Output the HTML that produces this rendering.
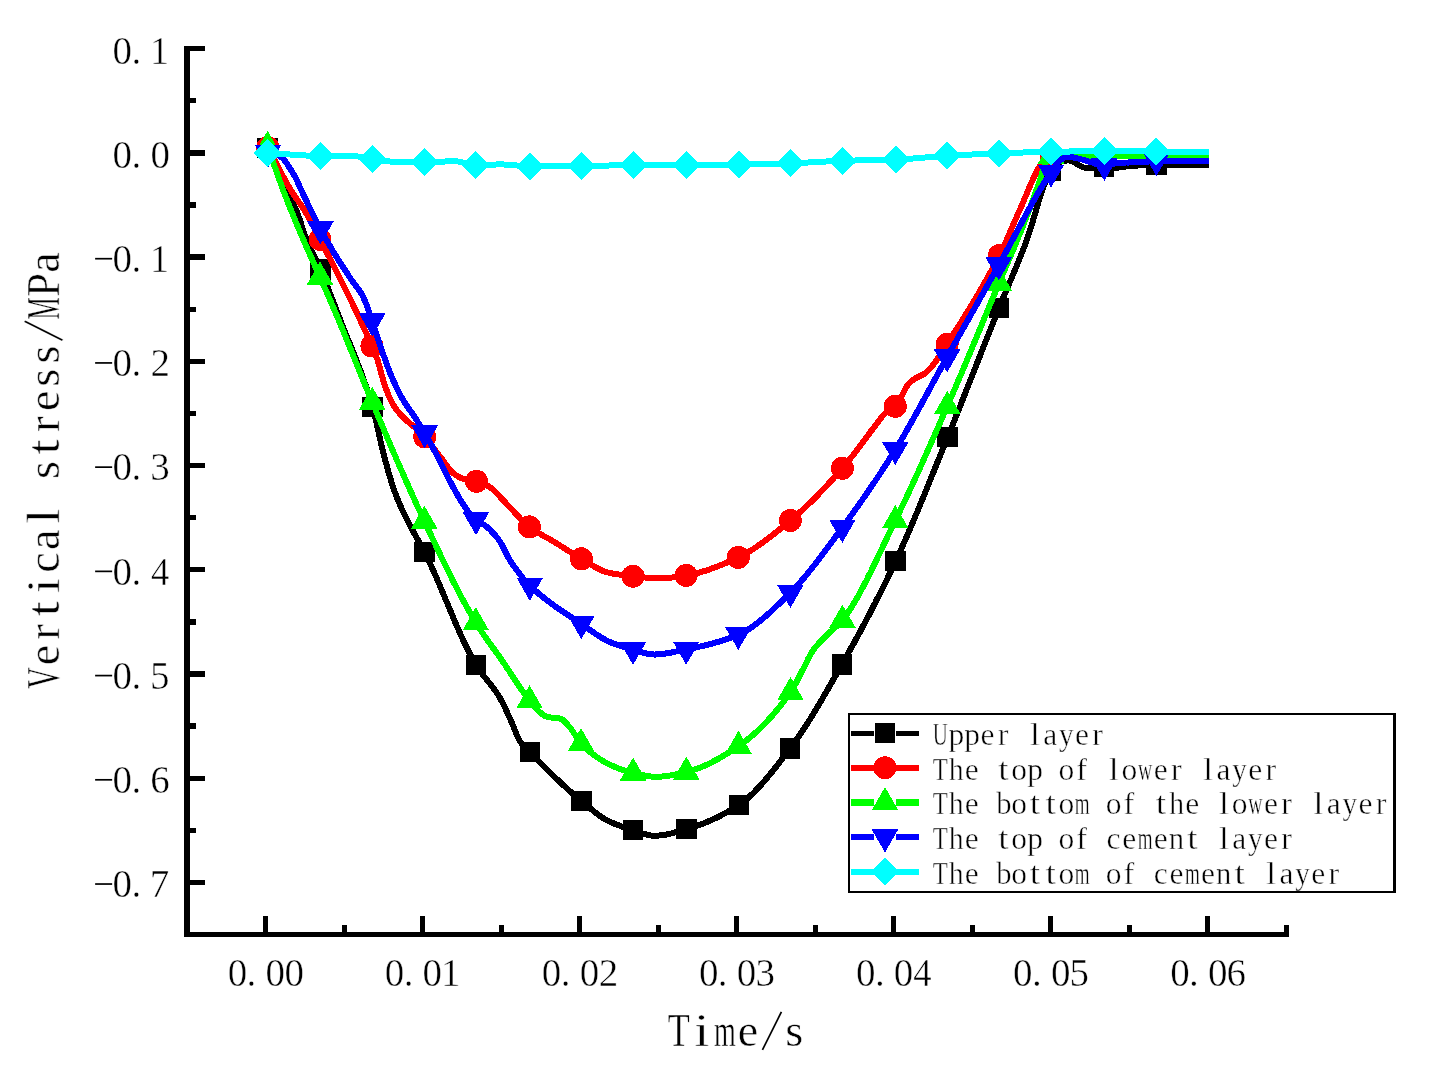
<!DOCTYPE html>
<html lang="en">
<head>
<meta charset="utf-8">
<title>Vertical stress vs time</title>
<style>
html,body{margin:0;padding:0;background:#fff;}
body{width:1434px;height:1087px;overflow:hidden;font-family:"Liberation Serif",serif;}
svg{display:block;}
</style>
</head>
<body>
<svg width="1434" height="1087" viewBox="0 0 1434 1087">
<rect width="1434" height="1087" fill="#fff"/>
<g stroke="#000" fill="none" shape-rendering="crispEdges">
<line x1="187.0" y1="46.0" x2="187.0" y2="937.2" stroke-width="5.6"/>
<line x1="184.2" y1="934.4" x2="1289.2" y2="934.4" stroke-width="5.6"/>
<line x1="187.0" y1="48.68" x2="205.0" y2="48.68" stroke-width="5.3"/>
<line x1="187.0" y1="100.79" x2="196.0" y2="100.79" stroke-width="5.3"/>
<line x1="187.0" y1="152.90" x2="205.0" y2="152.90" stroke-width="5.3"/>
<line x1="187.0" y1="205.01" x2="196.0" y2="205.01" stroke-width="5.3"/>
<line x1="187.0" y1="257.12" x2="205.0" y2="257.12" stroke-width="5.3"/>
<line x1="187.0" y1="309.23" x2="196.0" y2="309.23" stroke-width="5.3"/>
<line x1="187.0" y1="361.34" x2="205.0" y2="361.34" stroke-width="5.3"/>
<line x1="187.0" y1="413.45" x2="196.0" y2="413.45" stroke-width="5.3"/>
<line x1="187.0" y1="465.56" x2="205.0" y2="465.56" stroke-width="5.3"/>
<line x1="187.0" y1="517.67" x2="196.0" y2="517.67" stroke-width="5.3"/>
<line x1="187.0" y1="569.78" x2="205.0" y2="569.78" stroke-width="5.3"/>
<line x1="187.0" y1="621.89" x2="196.0" y2="621.89" stroke-width="5.3"/>
<line x1="187.0" y1="674.00" x2="205.0" y2="674.00" stroke-width="5.3"/>
<line x1="187.0" y1="726.11" x2="196.0" y2="726.11" stroke-width="5.3"/>
<line x1="187.0" y1="778.22" x2="205.0" y2="778.22" stroke-width="5.3"/>
<line x1="187.0" y1="830.33" x2="196.0" y2="830.33" stroke-width="5.3"/>
<line x1="187.0" y1="882.44" x2="205.0" y2="882.44" stroke-width="5.3"/>
<line x1="265.50" y1="934.4" x2="265.50" y2="916.0" stroke-width="5.0"/>
<line x1="344.04" y1="934.4" x2="344.04" y2="925.0" stroke-width="5.0"/>
<line x1="422.58" y1="934.4" x2="422.58" y2="916.0" stroke-width="5.0"/>
<line x1="501.12" y1="934.4" x2="501.12" y2="925.0" stroke-width="5.0"/>
<line x1="579.66" y1="934.4" x2="579.66" y2="916.0" stroke-width="5.0"/>
<line x1="658.20" y1="934.4" x2="658.20" y2="925.0" stroke-width="5.0"/>
<line x1="736.74" y1="934.4" x2="736.74" y2="916.0" stroke-width="5.0"/>
<line x1="815.28" y1="934.4" x2="815.28" y2="925.0" stroke-width="5.0"/>
<line x1="893.82" y1="934.4" x2="893.82" y2="916.0" stroke-width="5.0"/>
<line x1="972.36" y1="934.4" x2="972.36" y2="925.0" stroke-width="5.0"/>
<line x1="1050.90" y1="934.4" x2="1050.90" y2="916.0" stroke-width="5.0"/>
<line x1="1129.44" y1="934.4" x2="1129.44" y2="925.0" stroke-width="5.0"/>
<line x1="1207.98" y1="934.4" x2="1207.98" y2="916.0" stroke-width="5.0"/>
<line x1="1286.52" y1="934.4" x2="1286.52" y2="925.0" stroke-width="5.0"/>
</g>
<g shape-rendering="crispEdges">
<polyline points="267.5,148.0 269.7,153.4 271.8,158.9 274.0,164.4 276.1,170.0 278.3,175.4 280.5,180.6 282.6,185.5 284.8,190.0 287.0,193.9 289.1,197.4 291.3,200.7 293.4,204.3 295.6,208.5 298.1,214.8 300.6,222.2 303.0,229.9 305.5,236.8 307.6,241.9 309.7,246.7 311.8,251.2 314.0,255.6 316.1,260.0 318.2,264.6 320.3,269.4 322.3,274.1 324.3,279.0 326.3,283.9 328.3,289.0 330.3,294.1 332.3,299.2 334.3,304.4 336.3,309.6 338.3,314.8 340.3,320.0 342.3,325.2 344.3,330.3 346.3,335.3 348.4,340.2 350.4,345.2 352.4,350.1 354.4,355.2 356.4,360.2 358.4,365.4 360.4,370.7 362.4,376.2 364.4,381.9 366.5,387.7 368.5,393.9 370.5,400.3 372.5,407.0 374.8,415.7 377.1,425.7 379.4,436.2 381.7,446.4 384.0,455.7 386.3,464.0 388.5,472.1 390.8,479.8 393.0,486.9 395.3,493.3 397.4,498.8 399.6,503.9 401.7,508.6 403.9,513.1 406.0,517.5 408.2,521.8 410.3,526.0 412.3,529.9 414.4,533.6 416.4,537.3 418.4,540.8 420.4,544.4 422.5,548.1 424.5,552.0 426.6,556.1 428.6,560.4 430.7,564.8 432.7,569.3 434.8,574.0 436.9,578.7 438.9,583.5 441.0,588.3 443.0,593.2 445.1,598.1 447.2,603.1 449.2,608.0 451.3,612.9 453.3,617.8 455.4,622.6 457.5,627.4 459.5,632.1 461.6,636.7 463.6,641.2 465.7,645.5 467.8,649.7 469.8,653.8 471.9,657.7 473.9,661.4 476.0,664.9 478.0,668.1 480.0,671.0 482.0,673.7 484.0,676.3 486.0,678.8 488.0,681.3 490.0,683.8 492.0,686.3 494.0,688.9 496.0,691.7 498.0,694.7 500.0,698.0 502.2,702.1 504.5,706.6 506.7,711.4 509.0,716.4 511.2,721.3 513.4,726.5 515.6,732.1 517.9,737.3 520.1,741.4 522.5,744.7 525.0,747.4 527.5,749.8 529.9,752.2 532.0,754.3 534.0,756.4 536.1,758.6 538.1,760.6 540.2,762.7 542.2,764.8 544.3,766.9 546.3,768.9 548.4,770.9 550.5,772.9 552.5,774.9 554.6,776.9 556.6,778.9 558.7,780.8 560.7,782.8 562.8,784.7 564.9,786.6 566.9,788.4 569.0,790.3 571.0,792.1 573.1,793.9 575.1,795.7 577.2,797.5 579.2,799.2 581.3,800.9 583.4,802.6 585.4,804.3 587.5,806.1 589.5,807.8 591.6,809.5 593.6,811.1 595.7,812.8 597.7,814.3 599.8,815.8 601.8,817.2 603.9,818.5 605.9,819.7 608.0,820.8 610.1,821.8 612.2,822.7 614.3,823.6 616.4,824.5 618.5,825.3 620.5,826.0 622.6,826.8 624.7,827.5 626.8,828.1 628.9,828.8 631.0,829.5 633.1,830.1 635.2,830.8 637.4,831.5 639.5,832.3 641.6,833.1 643.8,833.8 645.9,834.4 648.0,835.0 650.1,835.4 652.3,835.7 654.4,835.8 656.4,835.8 658.4,835.6 660.4,835.4 662.4,835.2 664.4,834.8 666.4,834.5 668.4,834.0 670.5,833.6 672.5,833.1 674.5,832.5 676.5,832.0 678.5,831.4 680.5,830.8 682.5,830.2 684.5,829.7 686.5,829.1 688.5,828.5 690.5,827.9 692.5,827.3 694.5,826.6 696.6,826.0 698.6,825.2 700.6,824.5 702.6,823.7 704.6,822.9 706.6,822.1 708.6,821.3 710.6,820.4 712.6,819.5 714.7,818.5 716.7,817.6 718.7,816.6 720.7,815.6 722.7,814.5 724.7,813.4 726.7,812.3 728.7,811.2 730.8,810.0 732.8,808.8 734.8,807.6 736.8,806.3 738.8,805.0 740.8,803.6 742.9,802.1 744.9,800.5 747.0,798.8 749.0,797.0 751.1,795.1 753.1,793.2 755.2,791.1 757.2,789.0 759.3,786.8 761.3,784.5 763.4,782.2 765.4,779.8 767.5,777.4 769.5,774.9 771.6,772.4 773.6,769.8 775.7,767.3 777.7,764.6 779.8,762.0 781.8,759.3 783.9,756.7 785.9,754.0 788.0,751.3 790.0,748.6 792.0,745.9 794.0,743.2 796.0,740.4 798.0,737.5 800.0,734.6 802.0,731.6 804.0,728.6 806.0,725.5 808.0,722.4 810.0,719.2 812.0,715.9 814.0,712.7 816.0,709.4 818.0,706.0 820.0,702.6 822.0,699.2 824.0,695.8 826.0,692.3 828.0,688.9 830.0,685.4 832.0,681.9 834.0,678.4 836.0,674.9 838.0,671.3 840.0,667.8 842.0,664.3 844.1,660.7 846.1,657.0 848.2,653.3 850.2,649.6 852.3,645.9 854.4,642.2 856.4,638.4 858.5,634.6 860.6,630.8 862.6,626.9 864.7,623.1 866.7,619.2 868.8,615.2 870.9,611.3 872.9,607.3 875.0,603.3 877.0,599.2 879.1,595.1 881.2,591.0 883.2,586.9 885.3,582.7 887.4,578.5 889.4,574.2 891.5,569.9 893.5,565.6 895.6,561.2 897.6,556.9 899.6,552.5 901.6,548.1 903.6,543.6 905.6,539.1 907.6,534.5 909.6,529.9 911.6,525.2 913.6,520.5 915.6,515.7 917.6,510.9 919.6,506.1 921.6,501.3 923.6,496.4 925.6,491.5 927.6,486.6 929.6,481.6 931.6,476.7 933.6,471.8 935.6,466.8 937.6,461.8 939.6,456.9 941.6,452.0 943.6,447.0 945.6,442.1 947.6,437.2 949.7,432.1 951.7,427.1 953.8,422.0 955.8,416.8 957.9,411.7 960.0,406.5 962.0,401.3 964.1,396.1 966.1,390.9 968.2,385.7 970.3,380.5 972.3,375.3 974.4,370.0 976.4,364.8 978.5,359.6 980.6,354.3 982.6,349.1 984.7,343.9 986.7,338.7 988.8,333.5 990.9,328.3 992.9,323.2 995.0,318.0 997.0,312.9 999.1,307.8 1001.1,302.8 1003.2,297.8 1005.2,292.9 1007.3,288.1 1009.3,283.2 1011.4,278.4 1013.4,273.5 1015.5,268.6 1017.5,263.7 1019.6,258.6 1021.6,253.5 1023.7,248.3 1025.7,243.0 1027.8,237.1 1029.9,230.7 1032.0,223.9 1034.1,216.9 1036.2,209.8 1038.3,202.7 1040.5,195.9 1042.6,189.5 1044.7,183.6 1046.8,178.3 1048.9,173.9 1051.0,170.5 1053.0,167.9 1055.0,165.5 1057.0,163.7 1059.0,162.5 1061.3,161.7 1063.5,161.0 1065.8,160.6 1068.1,160.4 1070.2,160.7 1072.3,161.4 1074.4,162.4 1076.5,163.6 1078.6,164.9 1080.7,166.1 1082.8,167.1 1084.9,167.8 1087.0,168.1 1089.1,168.1 1091.2,167.9 1093.4,167.8 1095.5,167.6 1097.6,167.3 1099.8,167.2 1101.9,167.0 1104.0,167.0 1106.3,167.0 1108.5,167.2 1110.8,167.3 1113.1,167.4 1115.3,167.6 1117.6,167.6 1119.6,167.5 1121.6,167.3 1123.6,167.0 1125.6,166.6 1127.6,166.3 1129.6,166.0 1131.6,165.8 1133.7,165.7 1135.7,165.6 1137.8,165.5 1139.8,165.4 1141.9,165.3 1143.9,165.2 1146.0,165.1 1148.1,165.1 1150.1,165.0 1152.2,165.0 1154.2,164.9 1156.3,164.9 1158.3,164.9 1160.4,164.9 1162.4,164.9 1164.4,164.8 1166.4,164.8 1168.5,164.8 1170.5,164.8 1172.5,164.8 1174.5,164.8 1176.6,164.8 1178.6,164.8 1180.6,164.8 1182.7,164.8 1184.7,164.8 1186.7,164.8 1188.7,164.8 1190.8,164.8 1192.8,164.7 1194.8,164.7 1196.8,164.7 1198.9,164.7 1200.9,164.7 1202.9,164.7 1204.9,164.7 1207.0,164.7 1209.0,164.7" fill="none" stroke="#000000" stroke-width="6.0" stroke-linejoin="round" stroke-linecap="butt"/>
<rect x="257.3" y="137.8" width="20.4" height="20.4" fill="#000000"/>
<rect x="310.1" y="259.2" width="20.4" height="20.4" fill="#000000"/>
<rect x="362.3" y="396.8" width="20.4" height="20.4" fill="#000000"/>
<rect x="414.3" y="541.8" width="20.4" height="20.4" fill="#000000"/>
<rect x="465.8" y="654.7" width="20.4" height="20.4" fill="#000000"/>
<rect x="519.7" y="742.0" width="20.4" height="20.4" fill="#000000"/>
<rect x="571.1" y="790.7" width="20.4" height="20.4" fill="#000000"/>
<rect x="622.9" y="819.9" width="20.4" height="20.4" fill="#000000"/>
<rect x="676.3" y="818.9" width="20.4" height="20.4" fill="#000000"/>
<rect x="728.6" y="794.8" width="20.4" height="20.4" fill="#000000"/>
<rect x="779.8" y="738.4" width="20.4" height="20.4" fill="#000000"/>
<rect x="831.8" y="654.1" width="20.4" height="20.4" fill="#000000"/>
<rect x="885.4" y="551.0" width="20.4" height="20.4" fill="#000000"/>
<rect x="937.4" y="427.0" width="20.4" height="20.4" fill="#000000"/>
<rect x="988.9" y="297.6" width="20.4" height="20.4" fill="#000000"/>
<rect x="1040.8" y="160.3" width="20.4" height="20.4" fill="#000000"/>
<rect x="1093.8" y="156.8" width="20.4" height="20.4" fill="#000000"/>
<rect x="1146.1" y="154.7" width="20.4" height="20.4" fill="#000000"/>
<polyline points="267.8,147.5 269.9,151.4 272.0,155.4 274.1,159.3 276.2,163.3 278.3,167.3 280.3,171.3 282.4,175.2 284.5,179.1 286.6,182.8 288.7,186.5 290.8,190.0 292.8,193.2 294.9,196.3 296.9,199.3 299.0,202.2 301.0,205.1 303.1,208.2 305.1,211.5 307.2,215.1 309.4,218.9 311.5,222.9 313.6,226.9 315.7,231.0 317.9,235.2 320.0,239.3 322.1,243.3 324.2,247.4 326.2,251.4 328.3,255.4 330.4,259.5 332.5,263.5 334.5,267.6 336.6,271.7 338.7,275.8 340.8,279.9 342.8,284.1 344.9,288.2 347.0,292.4 349.1,296.7 351.1,300.9 353.2,305.2 355.3,309.6 357.4,314.0 359.4,318.4 361.5,322.9 363.6,327.4 365.7,332.0 367.7,336.6 369.8,341.3 371.9,346.0 374.8,352.7 377.7,360.3 379.8,367.5 381.9,375.7 384.0,382.9 386.2,389.2 388.4,395.0 390.6,400.0 392.8,404.2 394.9,407.4 397.0,410.2 399.1,412.8 401.1,415.1 403.2,417.2 405.3,419.3 407.3,421.2 409.3,422.9 411.4,424.6 413.4,426.3 415.4,428.0 417.7,430.1 420.0,432.2 422.4,434.4 424.7,436.8 426.9,439.3 429.1,442.0 431.3,444.9 433.4,447.8 435.6,450.8 437.8,453.7 440.0,456.5 442.2,459.4 444.4,462.4 446.6,465.4 448.9,468.4 451.1,471.0 453.3,473.3 455.5,475.0 457.9,476.4 460.2,477.6 462.6,478.6 465.0,479.3 467.3,479.8 469.6,480.2 471.9,480.5 474.2,480.8 476.5,481.3 478.8,482.0 481.1,482.8 483.4,483.8 485.8,484.9 488.1,486.1 490.4,487.5 492.5,489.0 494.7,491.0 496.8,493.1 499.0,495.5 501.1,497.9 503.3,500.3 505.4,502.6 507.4,504.7 509.4,506.8 511.4,508.9 513.4,511.1 515.4,513.3 517.4,515.5 519.4,517.6 521.4,519.7 523.4,521.7 525.4,523.6 527.4,525.3 529.4,526.9 531.4,528.4 533.4,529.8 535.4,531.1 537.4,532.3 539.4,533.5 541.4,534.7 543.4,535.8 545.4,536.9 547.4,538.0 549.4,539.1 551.4,540.2 553.4,541.4 555.4,542.6 557.4,543.8 559.4,545.1 561.4,546.4 563.4,547.6 565.4,548.9 567.4,550.2 569.4,551.5 571.4,552.8 573.4,554.0 575.4,555.3 577.4,556.5 579.4,557.7 581.4,558.8 583.4,560.0 585.5,561.2 587.5,562.5 589.6,563.7 591.6,565.0 593.7,566.2 595.7,567.3 597.8,568.5 599.8,569.5 601.9,570.4 603.9,571.3 606.0,572.0 608.0,572.5 610.1,573.0 612.2,573.4 614.2,573.8 616.3,574.1 618.4,574.4 620.5,574.7 622.6,575.0 624.7,575.3 626.8,575.5 628.8,575.7 630.9,576.0 633.0,576.2 635.1,576.4 637.3,576.7 639.4,576.9 641.5,577.2 643.7,577.4 645.8,577.6 647.9,577.9 650.1,578.0 652.2,578.2 654.3,578.3 656.5,578.4 658.6,578.4 660.7,578.4 662.8,578.3 665.0,578.2 667.1,578.0 669.2,577.8 671.3,577.6 673.5,577.3 675.6,577.0 677.7,576.7 679.8,576.4 682.0,576.1 684.1,575.7 686.2,575.4 688.2,575.1 690.2,574.7 692.2,574.3 694.2,573.8 696.2,573.4 698.2,572.8 700.2,572.3 702.2,571.7 704.2,571.1 706.2,570.5 708.2,569.8 710.2,569.1 712.2,568.4 714.3,567.7 716.3,566.9 718.3,566.1 720.3,565.3 722.3,564.5 724.3,563.7 726.3,562.8 728.3,561.9 730.3,561.0 732.3,560.2 734.3,559.2 736.3,558.3 738.3,557.4 740.3,556.4 742.3,555.4 744.3,554.4 746.3,553.2 748.3,552.1 750.3,550.9 752.3,549.6 754.3,548.3 756.3,547.0 758.3,545.6 760.3,544.2 762.3,542.8 764.3,541.3 766.4,539.8 768.4,538.3 770.4,536.8 772.4,535.2 774.4,533.6 776.4,532.0 778.4,530.4 780.4,528.8 782.4,527.1 784.4,525.5 786.4,523.8 788.4,522.2 790.4,520.5 792.4,518.8 794.4,517.1 796.4,515.4 798.4,513.6 800.4,511.8 802.4,510.0 804.4,508.1 806.4,506.2 808.4,504.3 810.4,502.4 812.4,500.4 814.4,498.4 816.4,496.4 818.4,494.4 820.4,492.3 822.4,490.2 824.4,488.1 826.4,486.0 828.4,483.9 830.4,481.7 832.4,479.5 834.4,477.3 836.4,475.1 838.4,472.8 840.4,470.6 842.4,468.3 844.5,465.9 846.6,463.4 848.6,460.8 850.7,458.2 852.8,455.5 854.9,452.8 857.0,450.0 859.0,447.2 861.1,444.4 863.2,441.6 865.3,438.8 867.4,436.0 869.5,433.2 871.5,430.5 873.6,427.8 875.7,425.1 877.7,422.4 879.7,419.7 881.8,417.0 883.8,414.6 885.8,412.6 888.2,410.9 890.5,409.6 892.9,408.2 895.3,406.3 897.7,403.2 900.0,399.1 902.4,394.8 905.2,389.2 908.0,384.4 910.6,381.8 913.2,379.8 915.8,378.1 918.0,376.9 920.2,375.9 922.5,374.9 924.7,373.6 926.9,371.8 929.2,369.5 931.4,367.0 933.6,364.2 935.9,361.2 938.1,358.0 940.4,354.7 942.6,351.3 944.9,347.8 947.1,344.2 949.1,341.0 951.1,337.8 953.1,334.6 955.1,331.4 957.1,328.3 959.1,325.1 961.2,321.9 963.2,318.6 965.2,315.4 967.2,312.2 969.2,308.9 971.2,305.6 973.2,302.3 975.2,299.0 977.2,295.6 979.2,292.2 981.2,288.7 983.2,285.2 985.2,281.7 987.3,278.1 989.3,274.5 991.3,270.8 993.3,267.1 995.3,263.3 997.3,259.4 999.3,255.5 1001.4,251.3 1003.4,246.9 1005.5,242.4 1007.6,237.8 1009.6,233.0 1011.7,228.2 1013.8,223.4 1015.9,218.7 1017.9,213.9 1020.0,209.3 1022.2,204.4 1024.3,199.3 1026.5,194.2 1028.7,189.0 1030.8,184.0 1033.0,179.1 1035.2,174.5 1037.3,170.3 1039.5,166.5 1041.7,162.9 1043.8,159.7 1046.0,157.5 1048.5,156.2 1051.0,155.2 1053.2,154.3 1055.4,153.3 1057.6,152.4 1059.8,151.7 1062.0,151.5 1064.0,151.5 1066.0,151.7 1068.0,151.9 1070.0,152.1 1072.0,152.3 1074.0,152.6 1076.0,152.8 1078.0,153.0 1080.0,153.2 1082.0,153.3 1084.0,153.4 1086.0,153.6 1088.0,153.7 1090.0,153.8 1092.0,153.9 1094.0,154.0 1096.0,154.0 1098.0,154.1 1100.0,154.2 1102.0,154.2 1104.0,154.2 1106.0,154.2 1108.0,154.2 1110.0,154.2 1112.0,154.2 1114.0,154.2 1116.0,154.2 1118.0,154.2 1120.0,154.2 1122.0,154.2 1124.0,154.2 1126.0,154.2 1128.0,154.2 1130.0,154.2 1132.0,154.2 1134.0,154.2 1136.0,154.2 1138.0,154.2 1140.0,154.2 1142.0,154.2 1144.0,154.2 1146.0,154.2 1148.0,154.2 1150.0,154.2 1152.0,154.2 1154.0,154.2 1156.0,154.2 1158.0,154.2 1160.1,154.2 1162.1,154.2 1164.2,154.2 1166.2,154.2 1168.2,154.2 1170.3,154.1 1172.3,154.1 1174.3,154.1 1176.4,154.1 1178.4,154.1 1180.5,154.1 1182.5,154.1 1184.5,154.0 1186.6,154.0 1188.6,154.0 1190.7,154.0 1192.7,153.9 1194.7,153.9 1196.8,153.9 1198.8,153.9 1200.8,153.9 1202.9,153.9 1204.9,153.8 1207.0,153.8 1209.0,153.8" fill="none" stroke="#ff0000" stroke-width="6.0" stroke-linejoin="round" stroke-linecap="butt"/>
<circle cx="267.8" cy="147.5" r="11.5" fill="#ff0000"/>
<circle cx="320.0" cy="239.3" r="11.5" fill="#ff0000"/>
<circle cx="371.9" cy="346.0" r="11.5" fill="#ff0000"/>
<circle cx="424.7" cy="436.8" r="11.5" fill="#ff0000"/>
<circle cx="476.5" cy="481.3" r="11.5" fill="#ff0000"/>
<circle cx="529.4" cy="526.9" r="11.5" fill="#ff0000"/>
<circle cx="581.4" cy="558.8" r="11.5" fill="#ff0000"/>
<circle cx="633.0" cy="576.2" r="11.5" fill="#ff0000"/>
<circle cx="686.2" cy="575.4" r="11.5" fill="#ff0000"/>
<circle cx="738.3" cy="557.4" r="11.5" fill="#ff0000"/>
<circle cx="790.4" cy="520.5" r="11.5" fill="#ff0000"/>
<circle cx="842.4" cy="468.3" r="11.5" fill="#ff0000"/>
<circle cx="895.3" cy="406.3" r="11.5" fill="#ff0000"/>
<circle cx="947.1" cy="344.2" r="11.5" fill="#ff0000"/>
<circle cx="999.3" cy="255.5" r="11.5" fill="#ff0000"/>
<circle cx="1051.0" cy="155.2" r="11.5" fill="#ff0000"/>
<circle cx="1104.0" cy="154.2" r="11.5" fill="#ff0000"/>
<circle cx="1156.0" cy="154.2" r="11.5" fill="#ff0000"/>
<polyline points="267.6,146.2 269.8,152.5 272.0,158.9 274.2,165.3 276.5,171.6 278.7,177.9 280.9,184.0 283.1,190.0 285.3,195.7 287.4,201.2 289.6,206.7 291.8,212.1 293.9,217.4 296.1,222.6 298.3,227.8 300.4,232.9 302.6,238.0 304.8,243.0 307.0,248.0 309.1,252.8 311.3,257.6 313.5,262.4 315.6,267.2 317.8,272.0 320.0,276.9 322.1,281.6 324.1,286.3 326.2,291.1 328.3,295.8 330.3,300.6 332.4,305.4 334.5,310.3 336.5,315.1 338.6,320.0 340.7,325.0 342.8,330.1 344.9,335.2 347.0,340.3 349.1,345.5 351.2,350.6 353.3,355.8 355.4,361.0 357.5,366.2 359.6,371.4 361.7,376.6 363.8,381.7 365.9,386.9 368.0,392.0 370.1,397.0 372.2,402.0 374.2,406.7 376.2,411.5 378.2,416.2 380.2,420.9 382.2,425.7 384.2,430.4 386.2,435.1 388.2,439.8 390.2,444.5 392.2,449.2 394.2,453.8 396.2,458.5 398.2,463.1 400.3,467.7 402.3,472.3 404.3,476.9 406.3,481.4 408.3,485.9 410.3,490.4 412.3,494.9 414.3,499.3 416.3,503.7 418.3,508.1 420.3,512.4 422.3,516.7 424.3,521.0 426.4,525.4 428.4,529.7 430.5,534.1 432.5,538.5 434.6,542.8 436.7,547.2 438.7,551.5 440.8,555.8 442.8,560.1 444.9,564.3 447.0,568.6 449.0,572.8 451.1,576.9 453.1,581.1 455.2,585.1 457.3,589.2 459.3,593.1 461.4,597.1 463.4,600.9 465.5,604.7 467.6,608.4 469.6,612.1 471.7,615.7 473.7,619.2 475.8,622.6 477.9,625.9 479.9,629.1 482.0,632.2 484.0,635.3 486.1,638.2 488.2,641.1 490.2,644.0 492.3,646.9 494.4,649.7 496.4,652.6 498.5,655.4 500.5,658.3 502.6,661.3 504.7,664.3 506.7,667.4 508.8,670.5 510.9,673.7 512.9,676.8 515.0,680.0 517.1,683.1 519.2,686.2 521.2,689.2 523.3,692.2 525.4,695.1 527.4,697.9 529.5,700.6 531.5,703.3 533.6,705.9 535.7,708.3 537.7,710.3 539.7,712.0 541.7,713.7 543.7,715.2 545.7,716.3 547.7,717.0 549.8,717.4 551.9,717.6 554.0,717.8 556.1,718.0 558.2,718.2 560.3,718.6 562.3,719.5 564.3,721.1 566.3,723.2 568.3,725.6 570.3,727.9 572.4,730.7 574.6,734.1 576.7,737.6 578.9,740.9 581.0,743.5 583.1,745.6 585.2,747.6 587.3,749.5 589.4,751.4 591.5,753.1 593.6,754.8 595.8,756.3 597.9,757.8 600.0,759.2 602.1,760.5 604.2,761.7 606.3,762.9 608.4,764.0 610.5,765.0 612.6,765.9 614.6,766.8 616.7,767.7 618.7,768.5 620.8,769.2 622.8,770.0 624.9,770.6 626.9,771.3 629.0,771.9 631.0,772.4 633.1,772.9 635.2,773.4 637.2,773.9 639.3,774.4 641.3,774.8 643.4,775.3 645.4,775.7 647.5,776.1 649.5,776.4 651.6,776.6 653.6,776.7 655.7,776.8 657.7,776.8 659.8,776.7 661.8,776.5 663.9,776.3 665.9,776.1 667.9,775.8 670.0,775.5 672.0,775.1 674.1,774.7 676.1,774.3 678.1,773.8 680.2,773.4 682.2,772.9 684.3,772.5 686.3,772.0 688.3,771.5 690.3,771.0 692.3,770.4 694.3,769.7 696.3,769.0 698.3,768.3 700.4,767.5 702.4,766.7 704.4,765.8 706.4,764.9 708.4,764.0 710.4,763.0 712.4,761.9 714.4,760.9 716.4,759.8 718.4,758.7 720.4,757.5 722.4,756.3 724.4,755.1 726.5,753.9 728.5,752.6 730.5,751.4 732.5,750.1 734.5,748.8 736.5,747.4 738.5,746.1 740.5,744.7 742.5,743.3 744.5,741.8 746.5,740.3 748.5,738.7 750.5,737.1 752.5,735.4 754.5,733.6 756.5,731.8 758.5,729.9 760.5,728.0 762.5,726.0 764.5,724.0 766.5,721.9 768.5,719.7 770.5,717.5 772.5,715.3 774.5,712.9 776.5,710.6 778.5,708.1 780.5,705.6 782.5,703.1 784.5,700.5 786.5,697.8 788.5,695.1 790.5,692.3 792.7,688.9 794.8,685.1 797.0,681.0 799.1,676.7 801.3,672.6 803.6,668.1 806.0,663.3 808.3,658.6 810.7,654.2 813.0,650.5 815.1,647.7 817.2,645.2 819.2,642.9 821.3,640.8 823.4,638.6 825.5,636.5 827.6,634.4 829.7,632.4 831.8,630.5 834.0,628.6 836.1,626.7 838.2,624.6 840.3,622.4 842.4,620.0 844.4,617.4 846.5,614.7 848.5,611.8 850.5,608.7 852.6,605.5 854.6,602.1 856.6,598.7 858.7,595.1 860.7,591.3 862.7,587.5 864.8,583.6 866.8,579.7 868.8,575.6 870.9,571.5 872.9,567.3 875.0,563.1 877.0,558.8 879.0,554.6 881.1,550.3 883.1,546.0 885.1,541.7 887.2,537.4 889.2,533.1 891.2,528.9 893.3,524.7 895.3,520.5 897.3,516.4 899.3,512.3 901.3,508.2 903.3,504.0 905.3,499.8 907.3,495.5 909.3,491.2 911.3,486.9 913.3,482.6 915.3,478.2 917.3,473.9 919.3,469.5 921.3,465.0 923.3,460.6 925.3,456.1 927.3,451.6 929.3,447.1 931.3,442.6 933.3,438.1 935.3,433.6 937.3,429.0 939.3,424.5 941.3,419.9 943.3,415.3 945.3,410.8 947.3,406.2 949.4,401.5 951.4,396.7 953.5,391.9 955.6,387.1 957.6,382.2 959.7,377.4 961.8,372.5 963.8,367.6 965.9,362.7 968.0,357.7 970.0,352.8 972.1,347.8 974.2,342.8 976.3,337.9 978.3,332.9 980.4,327.9 982.5,322.9 984.5,317.9 986.6,312.9 988.7,307.9 990.7,303.0 992.8,298.0 994.9,293.0 996.9,288.1 999.0,283.1 1001.1,278.2 1003.1,273.4 1005.2,268.5 1007.2,263.7 1009.3,258.9 1011.3,254.1 1013.4,249.2 1015.4,244.3 1017.5,239.4 1019.5,234.4 1021.6,229.4 1023.6,224.2 1025.7,219.0 1027.7,213.7 1029.8,208.3 1031.8,202.8 1033.9,197.2 1035.9,191.6 1038.0,185.8 1040.0,180.0 1042.0,173.5 1044.0,166.9 1046.0,162.0 1048.5,158.0 1051.0,156.0 1053.0,156.0 1055.1,155.9 1057.1,155.9 1059.2,155.9 1061.2,155.8 1063.2,155.8 1065.3,155.8 1067.3,155.7 1069.3,155.7 1071.4,155.7 1073.4,155.7 1075.5,155.7 1077.5,155.7 1079.5,155.7 1081.6,155.6 1083.6,155.6 1085.7,155.6 1087.7,155.6 1089.7,155.6 1091.8,155.6 1093.8,155.6 1095.8,155.6 1097.9,155.6 1099.9,155.6 1102.0,155.6 1104.0,155.6 1106.0,155.6 1108.0,155.6 1110.0,155.6 1112.0,155.6 1114.0,155.6 1116.0,155.6 1118.0,155.6 1120.0,155.6 1122.0,155.6 1124.0,155.6 1126.0,155.6 1128.0,155.6 1130.0,155.6 1132.0,155.6 1134.0,155.6 1136.0,155.6 1138.0,155.6 1140.0,155.6 1142.0,155.6 1144.0,155.6 1146.0,155.6 1148.0,155.6 1150.0,155.6 1152.0,155.6 1154.0,155.6 1156.0,155.6 1158.0,155.6 1160.1,155.6 1162.1,155.6 1164.2,155.6 1166.2,155.6 1168.2,155.6 1170.3,155.6 1172.3,155.6 1174.3,155.6 1176.4,155.6 1178.4,155.6 1180.5,155.6 1182.5,155.6 1184.5,155.6 1186.6,155.6 1188.6,155.7 1190.7,155.7 1192.7,155.7 1194.7,155.7 1196.8,155.7 1198.8,155.7 1200.8,155.7 1202.9,155.7 1204.9,155.7 1207.0,155.7 1209.0,155.7" fill="none" stroke="#00ff00" stroke-width="6.0" stroke-linejoin="round" stroke-linecap="butt"/>
<polygon points="267.6,130.8 280.9,154.0 254.3,154.0" fill="#00ff00"/>
<polygon points="320.0,261.5 333.3,284.7 306.7,284.7" fill="#00ff00"/>
<polygon points="372.2,386.6 385.5,409.8 358.9,409.8" fill="#00ff00"/>
<polygon points="424.3,505.6 437.6,528.8 411.0,528.8" fill="#00ff00"/>
<polygon points="475.8,607.2 489.1,630.4 462.5,630.4" fill="#00ff00"/>
<polygon points="529.5,685.2 542.8,708.4 516.2,708.4" fill="#00ff00"/>
<polygon points="581.0,728.1 594.3,751.3 567.7,751.3" fill="#00ff00"/>
<polygon points="633.1,757.5 646.4,780.7 619.8,780.7" fill="#00ff00"/>
<polygon points="686.3,756.6 699.6,779.8 673.0,779.8" fill="#00ff00"/>
<polygon points="738.5,730.7 751.8,753.9 725.2,753.9" fill="#00ff00"/>
<polygon points="790.5,676.9 803.8,700.1 777.2,700.1" fill="#00ff00"/>
<polygon points="842.4,604.6 855.7,627.8 829.1,627.8" fill="#00ff00"/>
<polygon points="895.3,505.1 908.6,528.3 882.0,528.3" fill="#00ff00"/>
<polygon points="947.3,390.8 960.6,414.0 934.0,414.0" fill="#00ff00"/>
<polygon points="999.0,267.7 1012.3,290.9 985.7,290.9" fill="#00ff00"/>
<polygon points="1051.0,140.6 1064.3,163.8 1037.7,163.8" fill="#00ff00"/>
<polygon points="1104.0,140.2 1117.3,163.4 1090.7,163.4" fill="#00ff00"/>
<polygon points="1156.0,140.2 1169.3,163.4 1142.7,163.4" fill="#00ff00"/>
<polyline points="268.0,152.7 270.0,153.1 272.0,153.4 274.0,153.8 276.0,154.3 278.2,155.2 280.3,156.4 282.5,158.0 284.8,160.6 287.0,163.8 289.2,167.2 291.5,170.8 293.6,174.2 295.7,177.8 298.4,183.7 301.2,190.0 303.4,194.7 305.6,199.3 307.8,203.8 310.0,208.3 312.1,212.6 314.1,216.9 316.2,221.1 318.2,225.3 320.3,229.2 322.3,232.9 324.3,236.5 326.3,240.0 328.4,243.4 330.4,246.8 332.4,250.2 334.4,253.5 336.4,256.7 338.4,259.9 340.4,263.1 342.4,266.2 344.5,269.3 346.5,272.4 348.5,275.4 350.5,278.5 352.6,281.5 354.7,284.2 356.8,286.9 358.8,289.7 360.9,292.9 363.0,296.5 365.3,301.6 367.6,307.8 369.9,314.5 372.2,321.2 374.2,327.1 376.2,333.1 378.2,339.2 380.2,345.2 382.2,351.1 384.2,357.1 386.3,362.9 388.3,368.4 390.3,373.5 392.4,378.4 394.5,383.1 396.6,387.6 398.6,391.8 400.7,395.8 402.8,399.5 404.9,402.9 407.0,406.1 409.1,409.0 411.2,411.9 413.3,414.9 415.4,418.0 417.7,421.7 420.0,425.5 422.4,429.3 424.7,433.2 426.8,436.7 428.8,440.3 430.9,444.0 432.9,447.8 435.0,451.7 437.0,455.7 439.1,459.7 441.1,463.8 443.2,467.8 445.2,471.9 447.3,475.9 449.3,479.9 451.4,483.8 453.4,487.6 455.5,491.4 457.5,495.0 459.6,498.6 461.6,501.9 463.7,505.1 465.7,508.1 467.8,511.0 469.8,513.6 471.9,515.9 473.9,518.1 476.0,519.9 478.4,521.6 480.9,523.0 483.3,524.4 485.7,526.0 487.8,527.7 489.9,529.6 491.9,531.7 494.0,533.9 496.1,536.4 498.2,539.0 500.3,542.2 502.5,546.0 504.6,550.2 506.7,554.5 508.9,558.5 511.0,562.0 513.1,565.1 515.2,568.0 517.3,570.9 519.4,573.6 521.4,576.3 523.5,578.8 525.6,581.2 527.7,583.4 529.8,585.5 531.9,587.5 533.9,589.4 536.0,591.2 538.0,593.0 540.1,594.8 542.2,596.5 544.2,598.1 546.3,599.8 548.3,601.3 550.4,602.9 552.5,604.4 554.5,605.9 556.6,607.3 558.6,608.8 560.7,610.2 562.8,611.6 564.8,612.9 566.9,614.3 568.9,615.7 571.0,617.0 573.1,618.4 575.1,619.8 577.2,621.1 579.2,622.5 581.3,623.9 583.4,625.3 585.5,626.8 587.6,628.3 589.8,629.8 591.9,631.3 594.0,632.7 596.1,634.2 598.2,635.6 600.3,636.9 602.4,638.2 604.6,639.4 606.7,640.5 608.8,641.6 610.9,642.5 612.9,643.3 614.9,644.1 616.9,644.8 618.9,645.4 620.9,646.1 623.0,646.7 625.0,647.3 627.0,647.8 629.0,648.4 631.0,649.0 633.0,649.5 635.1,650.1 637.1,650.7 639.2,651.4 641.2,652.1 643.3,652.7 645.4,653.3 647.4,653.8 649.5,654.2 651.5,654.4 653.6,654.5 655.6,654.5 657.7,654.4 659.7,654.2 661.8,654.0 663.8,653.7 665.8,653.5 667.9,653.1 669.9,652.8 671.9,652.4 674.0,652.0 676.0,651.5 678.1,651.1 680.1,650.7 682.1,650.2 684.2,649.8 686.2,649.4 688.2,649.0 690.2,648.6 692.2,648.2 694.2,647.8 696.2,647.3 698.2,646.9 700.2,646.5 702.2,646.0 704.2,645.5 706.2,645.0 708.2,644.5 710.2,644.0 712.2,643.5 714.3,642.9 716.3,642.4 718.3,641.8 720.3,641.2 722.3,640.6 724.3,639.9 726.3,639.2 728.3,638.5 730.3,637.8 732.3,637.1 734.3,636.3 736.3,635.5 738.3,634.7 740.3,633.8 742.3,632.8 744.3,631.8 746.3,630.6 748.3,629.4 750.3,628.1 752.3,626.8 754.3,625.3 756.3,623.8 758.3,622.3 760.3,620.7 762.3,619.0 764.3,617.3 766.4,615.6 768.4,613.8 770.4,612.0 772.4,610.1 774.4,608.2 776.4,606.3 778.4,604.4 780.4,602.4 782.4,600.5 784.4,598.5 786.4,596.5 788.4,594.6 790.4,592.6 792.4,590.6 794.4,588.5 796.4,586.4 798.4,584.2 800.4,582.0 802.4,579.7 804.4,577.4 806.4,575.0 808.4,572.5 810.4,570.1 812.4,567.6 814.4,565.0 816.4,562.5 818.4,559.9 820.4,557.2 822.4,554.6 824.4,551.9 826.4,549.2 828.4,546.5 830.4,543.8 832.4,541.1 834.4,538.4 836.4,535.6 838.4,532.9 840.4,530.2 842.4,527.5 844.4,524.7 846.5,522.0 848.5,519.2 850.5,516.4 852.6,513.6 854.6,510.7 856.6,507.9 858.7,505.0 860.7,502.1 862.7,499.2 864.8,496.3 866.8,493.3 868.8,490.3 870.9,487.3 872.9,484.3 875.0,481.3 877.0,478.2 879.0,475.2 881.1,472.1 883.1,468.9 885.1,465.8 887.2,462.6 889.2,459.4 891.2,456.2 893.3,453.0 895.3,449.7 897.4,446.3 899.4,442.9 901.5,439.4 903.6,435.9 905.7,432.3 907.7,428.7 909.8,425.1 911.9,421.4 913.9,417.7 916.0,413.9 918.1,410.2 920.2,406.4 922.2,402.6 924.3,398.8 926.4,395.0 928.5,391.1 930.5,387.3 932.6,383.5 934.7,379.7 936.7,375.9 938.8,372.1 940.9,368.3 943.0,364.5 945.0,360.8 947.1,357.1 949.2,353.4 951.2,349.7 953.3,346.0 955.4,342.4 957.4,338.7 959.5,335.0 961.6,331.3 963.6,327.6 965.7,323.9 967.8,320.3 969.8,316.6 971.9,312.9 974.0,309.2 976.1,305.6 978.1,301.9 980.2,298.2 982.3,294.5 984.3,290.8 986.4,287.2 988.5,283.5 990.5,279.8 992.6,276.1 994.7,272.5 996.7,268.8 998.8,265.1 1000.8,261.5 1002.8,257.9 1004.8,254.2 1006.8,250.5 1008.8,246.7 1010.8,243.0 1012.9,239.2 1014.9,235.4 1016.9,231.7 1018.9,227.9 1020.9,224.1 1022.9,220.3 1024.9,216.6 1026.9,212.9 1028.9,209.2 1030.9,205.6 1032.9,201.9 1034.9,198.4 1036.9,194.9 1039.0,191.4 1041.0,188.0 1043.0,184.7 1045.0,181.5 1047.0,178.3 1049.0,175.3 1051.0,172.3 1053.2,168.9 1055.5,165.6 1057.8,162.7 1060.0,160.5 1062.5,158.6 1064.9,157.1 1067.4,156.5 1069.5,156.6 1071.6,157.0 1073.8,157.5 1075.9,158.0 1078.0,158.5 1080.3,159.1 1082.7,159.7 1085.0,160.4 1087.4,161.1 1089.7,161.8 1091.8,162.4 1093.9,163.1 1096.0,163.9 1098.1,164.5 1100.2,165.1 1102.3,165.5 1104.4,165.6 1106.7,165.4 1108.9,165.0 1111.2,164.4 1113.5,163.8 1115.7,163.3 1118.0,163.0 1120.1,162.9 1122.2,162.7 1124.3,162.6 1126.5,162.5 1128.6,162.5 1130.7,162.4 1132.8,162.3 1134.9,162.3 1137.0,162.2 1139.2,162.1 1141.3,162.0 1143.4,161.9 1145.5,161.8 1147.7,161.6 1149.9,161.4 1152.0,161.1 1154.2,160.9 1156.4,160.8 1158.7,160.8 1161.0,160.9 1163.4,161.1 1165.7,161.2 1168.0,161.2 1170.0,161.2 1172.1,161.2 1174.2,161.2 1176.2,161.2 1178.2,161.2 1180.3,161.2 1182.3,161.2 1184.4,161.2 1186.5,161.2 1188.5,161.2 1190.5,161.2 1192.6,161.2 1194.7,161.2 1196.7,161.2 1198.8,161.2 1200.8,161.2 1202.8,161.2 1204.9,161.2 1207.0,161.2 1209.0,161.2" fill="none" stroke="#0000ff" stroke-width="6.0" stroke-linejoin="round" stroke-linecap="butt"/>
<polygon points="268.0,168.1 281.3,144.9 254.7,144.9" fill="#0000ff"/>
<polygon points="320.3,244.6 333.6,221.4 307.0,221.4" fill="#0000ff"/>
<polygon points="372.2,336.6 385.5,313.4 358.9,313.4" fill="#0000ff"/>
<polygon points="424.7,448.6 438.0,425.4 411.4,425.4" fill="#0000ff"/>
<polygon points="476.0,535.3 489.3,512.1 462.7,512.1" fill="#0000ff"/>
<polygon points="529.8,600.9 543.1,577.7 516.5,577.7" fill="#0000ff"/>
<polygon points="581.3,639.3 594.6,616.1 568.0,616.1" fill="#0000ff"/>
<polygon points="633.0,664.9 646.3,641.7 619.7,641.7" fill="#0000ff"/>
<polygon points="686.2,664.8 699.5,641.6 672.9,641.6" fill="#0000ff"/>
<polygon points="738.3,650.1 751.6,626.9 725.0,626.9" fill="#0000ff"/>
<polygon points="790.4,608.0 803.7,584.8 777.1,584.8" fill="#0000ff"/>
<polygon points="842.4,542.9 855.7,519.7 829.1,519.7" fill="#0000ff"/>
<polygon points="895.3,465.1 908.6,441.9 882.0,441.9" fill="#0000ff"/>
<polygon points="947.1,372.5 960.4,349.3 933.8,349.3" fill="#0000ff"/>
<polygon points="998.8,280.5 1012.1,257.3 985.5,257.3" fill="#0000ff"/>
<polygon points="1051.0,187.7 1064.3,164.5 1037.7,164.5" fill="#0000ff"/>
<polygon points="1104.4,181.0 1117.7,157.8 1091.1,157.8" fill="#0000ff"/>
<polygon points="1156.4,176.2 1169.7,153.0 1143.1,153.0" fill="#0000ff"/>
<polyline points="267.6,153.0 269.6,153.1 271.7,153.2 273.7,153.4 275.7,153.5 277.8,153.6 279.8,153.8 281.8,153.9 283.8,154.1 285.9,154.2 287.9,154.4 289.9,154.5 292.0,154.6 294.0,154.8 296.0,154.9 298.1,155.0 300.1,155.2 302.1,155.3 304.2,155.4 306.2,155.5 308.2,155.6 310.2,155.7 312.3,155.8 314.3,155.9 316.3,155.9 318.4,156.0 320.4,156.0 322.4,156.0 324.5,156.0 326.5,156.1 328.5,156.1 330.6,156.1 332.6,156.1 334.6,156.1 336.7,156.1 338.7,156.1 340.8,156.1 342.8,156.2 344.8,156.2 346.9,156.2 348.9,156.2 350.9,156.2 353.0,156.3 355.0,156.3 357.2,156.4 359.4,156.6 361.6,156.9 363.8,157.3 366.0,157.7 368.2,158.1 370.4,158.5 372.6,158.9 374.8,159.3 377.0,159.7 379.1,160.1 381.3,160.5 383.5,160.8 385.6,161.2 387.8,161.4 390.0,161.5 392.0,161.5 394.1,161.6 396.1,161.6 398.1,161.7 400.1,161.7 402.2,161.7 404.2,161.8 406.2,161.8 408.3,161.8 410.3,161.8 412.3,161.9 414.4,161.9 416.4,161.9 418.4,161.9 420.4,161.9 422.5,161.9 424.5,161.9 426.5,161.9 428.6,161.9 430.6,161.8 432.6,161.8 434.7,161.7 436.7,161.7 438.7,161.6 440.8,161.6 442.8,161.5 444.8,161.5 446.9,161.4 448.9,161.4 450.9,161.3 453.0,161.3 455.0,161.3 457.1,161.4 459.1,161.7 461.1,162.1 463.2,162.7 465.2,163.2 467.3,163.8 469.4,164.4 471.4,164.8 473.4,165.1 475.5,165.2 477.5,165.2 479.6,165.1 481.6,165.1 483.7,165.0 485.7,164.9 487.8,164.8 489.8,164.7 491.8,164.6 493.9,164.5 495.9,164.5 498.0,164.4 500.0,164.4 502.0,164.4 504.0,164.5 506.0,164.6 508.0,164.7 510.0,164.9 512.0,165.0 514.0,165.2 516.0,165.4 518.0,165.6 520.0,165.7 522.0,165.9 524.0,166.0 526.0,166.1 528.0,166.2 530.0,166.2 532.1,166.2 534.1,166.2 536.2,166.2 538.2,166.2 540.3,166.2 542.3,166.2 544.4,166.1 546.4,166.1 548.5,166.1 550.5,166.1 552.6,166.1 554.6,166.1 556.7,166.0 558.7,166.0 560.8,166.0 562.8,166.0 564.9,166.0 566.9,165.9 569.0,165.9 571.0,165.9 573.1,165.9 575.1,165.9 577.2,165.8 579.2,165.8 581.3,165.8 583.3,165.8 585.3,165.8 587.3,165.7 589.3,165.7 591.3,165.7 593.3,165.7 595.3,165.6 597.3,165.6 599.3,165.6 601.3,165.6 603.3,165.5 605.3,165.5 607.3,165.5 609.3,165.5 611.3,165.4 613.3,165.4 615.3,165.4 617.3,165.4 619.3,165.4 621.3,165.3 623.3,165.3 625.3,165.3 627.3,165.3 629.3,165.3 631.3,165.3 633.3,165.3 635.3,165.3 637.4,165.3 639.4,165.3 641.5,165.3 643.5,165.3 645.5,165.3 647.6,165.3 649.6,165.3 651.6,165.3 653.7,165.3 655.7,165.3 657.8,165.3 659.8,165.3 661.8,165.3 663.9,165.3 665.9,165.3 668.0,165.3 670.0,165.3 672.0,165.3 674.1,165.3 676.1,165.3 678.1,165.3 680.2,165.3 682.2,165.3 684.3,165.3 686.3,165.3 688.3,165.3 690.3,165.3 692.3,165.3 694.3,165.3 696.3,165.3 698.3,165.2 700.4,165.2 702.4,165.2 704.4,165.2 706.4,165.1 708.4,165.1 710.4,165.1 712.4,165.0 714.4,165.0 716.4,164.9 718.4,164.9 720.4,164.9 722.4,164.8 724.4,164.8 726.5,164.7 728.5,164.7 730.5,164.7 732.5,164.6 734.5,164.6 736.5,164.5 738.5,164.5 740.5,164.5 742.5,164.4 744.5,164.4 746.5,164.4 748.5,164.3 750.5,164.3 752.5,164.2 754.5,164.2 756.5,164.2 758.5,164.1 760.5,164.1 762.5,164.0 764.5,164.0 766.5,163.9 768.5,163.9 770.5,163.8 772.5,163.8 774.5,163.7 776.5,163.7 778.5,163.6 780.5,163.6 782.5,163.5 784.5,163.5 786.5,163.4 788.5,163.4 790.5,163.3 792.5,163.2 794.5,163.2 796.5,163.1 798.5,163.0 800.5,162.9 802.5,162.8 804.5,162.7 806.5,162.6 808.5,162.5 810.5,162.4 812.5,162.3 814.5,162.2 816.5,162.1 818.5,161.9 820.5,161.8 822.5,161.7 824.5,161.6 826.5,161.5 828.5,161.4 830.5,161.3 832.5,161.2 834.5,161.1 836.5,161.0 838.5,160.9 840.5,160.9 842.5,160.8 844.5,160.7 846.6,160.7 848.6,160.6 850.7,160.6 852.7,160.5 854.7,160.5 856.8,160.4 858.8,160.4 860.8,160.3 862.9,160.3 864.9,160.3 867.0,160.2 869.0,160.2 871.0,160.1 873.1,160.1 875.1,160.1 877.2,160.0 879.2,160.0 881.2,159.9 883.3,159.9 885.3,159.8 887.3,159.8 889.4,159.7 891.4,159.6 893.5,159.6 895.5,159.5 897.6,159.4 899.6,159.3 901.7,159.2 903.8,159.1 905.8,159.0 907.9,158.8 909.9,158.7 912.0,158.6 914.1,158.4 916.1,158.3 918.2,158.1 920.3,157.9 922.3,157.8 924.4,157.6 926.5,157.4 928.5,157.3 930.6,157.1 932.7,156.9 934.7,156.8 936.8,156.6 938.8,156.4 940.9,156.3 943.0,156.2 945.0,156.0 947.1,155.9 949.2,155.8 951.2,155.7 953.3,155.5 955.4,155.4 957.4,155.3 959.5,155.2 961.6,155.1 963.6,155.0 965.7,154.8 967.8,154.7 969.8,154.6 971.9,154.5 974.0,154.4 976.1,154.3 978.1,154.2 980.2,154.1 982.3,154.0 984.3,153.9 986.4,153.8 988.5,153.7 990.5,153.6 992.6,153.5 994.7,153.5 996.7,153.4 998.8,153.3 1000.8,153.2 1002.8,153.2 1004.8,153.1 1006.8,153.0 1008.8,152.9 1010.8,152.9 1012.9,152.8 1014.9,152.7 1016.9,152.7 1018.9,152.6 1020.9,152.5 1022.9,152.5 1024.9,152.4 1026.9,152.4 1028.9,152.3 1030.9,152.3 1032.9,152.2 1034.9,152.2 1036.9,152.1 1039.0,152.1 1041.0,152.0 1043.0,152.0 1045.0,151.9 1047.0,151.9 1049.0,151.8 1051.0,151.8 1053.1,151.8 1055.1,151.7 1057.2,151.7 1059.2,151.6 1061.3,151.6 1063.3,151.6 1065.4,151.5 1067.4,151.5 1069.5,151.5 1071.5,151.4 1073.6,151.4 1075.6,151.4 1077.7,151.3 1079.8,151.3 1081.8,151.3 1083.9,151.2 1085.9,151.2 1088.0,151.2 1090.0,151.2 1092.1,151.2 1094.1,151.1 1096.2,151.1 1098.2,151.1 1100.3,151.1 1102.3,151.1 1104.4,151.1 1106.4,151.1 1108.4,151.1 1110.4,151.1 1112.4,151.1 1114.4,151.1 1116.4,151.1 1118.4,151.2 1120.4,151.2 1122.4,151.2 1124.4,151.2 1126.4,151.2 1128.4,151.2 1130.4,151.3 1132.4,151.3 1134.4,151.3 1136.4,151.3 1138.4,151.3 1140.4,151.4 1142.4,151.4 1144.4,151.4 1146.4,151.4 1148.4,151.4 1150.4,151.5 1152.4,151.5 1154.4,151.5 1156.4,151.5 1158.4,151.5 1160.4,151.5 1162.5,151.5 1164.5,151.6 1166.5,151.6 1168.5,151.6 1170.6,151.6 1172.6,151.6 1174.6,151.6 1176.6,151.6 1178.7,151.6 1180.7,151.6 1182.7,151.7 1184.7,151.7 1186.7,151.7 1188.8,151.7 1190.8,151.7 1192.8,151.7 1194.8,151.7 1196.9,151.7 1198.9,151.7 1200.9,151.8 1202.9,151.8 1205.0,151.8 1207.0,151.8 1209.0,151.8" fill="none" stroke="#00ffff" stroke-width="6.0" stroke-linejoin="round" stroke-linecap="butt"/>
<polygon points="267.6,139.0 281.6,153.0 267.6,167.0 253.6,153.0" fill="#00ffff"/>
<polygon points="320.4,142.0 334.4,156.0 320.4,170.0 306.4,156.0" fill="#00ffff"/>
<polygon points="372.6,144.9 386.6,158.9 372.6,172.9 358.6,158.9" fill="#00ffff"/>
<polygon points="424.5,147.9 438.5,161.9 424.5,175.9 410.5,161.9" fill="#00ffff"/>
<polygon points="475.5,151.2 489.5,165.2 475.5,179.2 461.5,165.2" fill="#00ffff"/>
<polygon points="530.0,152.2 544.0,166.2 530.0,180.2 516.0,166.2" fill="#00ffff"/>
<polygon points="581.3,151.8 595.3,165.8 581.3,179.8 567.3,165.8" fill="#00ffff"/>
<polygon points="633.3,151.3 647.3,165.3 633.3,179.3 619.3,165.3" fill="#00ffff"/>
<polygon points="686.3,151.3 700.3,165.3 686.3,179.3 672.3,165.3" fill="#00ffff"/>
<polygon points="738.5,150.5 752.5,164.5 738.5,178.5 724.5,164.5" fill="#00ffff"/>
<polygon points="790.5,149.3 804.5,163.3 790.5,177.3 776.5,163.3" fill="#00ffff"/>
<polygon points="842.5,146.8 856.5,160.8 842.5,174.8 828.5,160.8" fill="#00ffff"/>
<polygon points="895.5,145.5 909.5,159.5 895.5,173.5 881.5,159.5" fill="#00ffff"/>
<polygon points="947.1,141.9 961.1,155.9 947.1,169.9 933.1,155.9" fill="#00ffff"/>
<polygon points="998.8,139.3 1012.8,153.3 998.8,167.3 984.8,153.3" fill="#00ffff"/>
<polygon points="1051.0,137.8 1065.0,151.8 1051.0,165.8 1037.0,151.8" fill="#00ffff"/>
<polygon points="1104.4,137.1 1118.4,151.1 1104.4,165.1 1090.4,151.1" fill="#00ffff"/>
<polygon points="1156.4,137.5 1170.4,151.5 1156.4,165.5 1142.4,151.5" fill="#00ffff"/>
</g>
<rect x="849.0" y="714.0" width="545.6" height="178.1" fill="#fff"/>
<g shape-rendering="crispEdges">
<line x1="851.1" y1="733.2" x2="873.8" y2="733.2" stroke="#000000" stroke-width="5.2"/>
<line x1="896.2" y1="733.2" x2="919.1" y2="733.2" stroke="#000000" stroke-width="5.2"/>
<rect x="874.8" y="723.0" width="20.4" height="20.4" fill="#000000"/>
<line x1="851.1" y1="767.8" x2="873.8" y2="767.8" stroke="#ff0000" stroke-width="6.2"/>
<line x1="896.2" y1="767.8" x2="919.1" y2="767.8" stroke="#ff0000" stroke-width="6.2"/>
<circle cx="885.0" cy="767.8" r="11.5" fill="#ff0000"/>
<line x1="851.1" y1="802.4" x2="873.8" y2="802.4" stroke="#00ff00" stroke-width="6.2"/>
<line x1="896.2" y1="802.4" x2="919.1" y2="802.4" stroke="#00ff00" stroke-width="6.2"/>
<polygon points="885.0,787.0 898.3,810.2 871.7,810.2" fill="#00ff00"/>
<line x1="851.1" y1="837.2" x2="873.8" y2="837.2" stroke="#0000ff" stroke-width="6.2"/>
<line x1="896.2" y1="837.2" x2="919.1" y2="837.2" stroke="#0000ff" stroke-width="6.2"/>
<polygon points="885.0,852.6 898.3,829.4 871.7,829.4" fill="#0000ff"/>
<line x1="851.1" y1="871.8" x2="873.8" y2="871.8" stroke="#00ffff" stroke-width="6.2"/>
<line x1="896.2" y1="871.8" x2="919.1" y2="871.8" stroke="#00ffff" stroke-width="6.2"/>
<polygon points="885.0,857.8 899.0,871.8 885.0,885.8 871.0,871.8" fill="#00ffff"/>
</g>
<g font-family="'Liberation Serif', serif" fill="#000" stroke="#fff" stroke-width="0.45" style="filter:grayscale(1)">
<g aria-label="Upper layer"><text transform="translate(932.85,745.00) scale(0.662,1)" font-size="31.50">U</text><text x="948.61" y="745.00" font-size="31.50">p</text><text x="964.36" y="745.00" font-size="31.50">p</text><text x="980.57" y="745.00" font-size="31.50">e</text><text transform="translate(997.85,745.00) scale(1.019,1)" font-size="31.50">r</text><text transform="translate(1029.71,745.00) scale(1.180,1)" font-size="31.50">l</text><text x="1043.30" y="745.00" font-size="31.50">a</text><text transform="translate(1058.93,745.00) scale(0.930,1)" font-size="31.50">y</text><text x="1075.07" y="745.00" font-size="31.50">e</text><text transform="translate(1092.35,745.00) scale(1.019,1)" font-size="31.50">r</text></g>
<g aria-label="The top of lower layer"><text transform="translate(932.84,779.60) scale(0.781,1)" font-size="31.50">T</text><text transform="translate(948.75,779.60) scale(0.943,1)" font-size="31.50">h</text><text x="964.82" y="779.60" font-size="31.50">e</text><text transform="translate(998.14,779.60) scale(1.180,1)" font-size="31.50">t</text><text x="1011.25" y="779.60" font-size="31.50">o</text><text x="1027.36" y="779.60" font-size="31.50">p</text><text x="1058.50" y="779.60" font-size="31.50">o</text><text transform="translate(1076.25,779.60) scale(1.026,1)" font-size="31.50">f</text><text transform="translate(1108.46,779.60) scale(1.180,1)" font-size="31.50">l</text><text x="1121.50" y="779.60" font-size="31.50">o</text><text transform="translate(1138.02,779.60) scale(0.628,1)" font-size="31.50">w</text><text x="1153.82" y="779.60" font-size="31.50">e</text><text transform="translate(1171.10,779.60) scale(1.019,1)" font-size="31.50">r</text><text transform="translate(1202.96,779.60) scale(1.180,1)" font-size="31.50">l</text><text x="1216.55" y="779.60" font-size="31.50">a</text><text transform="translate(1232.18,779.60) scale(0.930,1)" font-size="31.50">y</text><text x="1248.32" y="779.60" font-size="31.50">e</text><text transform="translate(1265.60,779.60) scale(1.019,1)" font-size="31.50">r</text></g>
<g aria-label="The bottom of the lower layer"><text transform="translate(932.84,814.20) scale(0.781,1)" font-size="31.50">T</text><text transform="translate(948.75,814.20) scale(0.943,1)" font-size="31.50">h</text><text x="964.82" y="814.20" font-size="31.50">e</text><text transform="translate(996.29,814.20) scale(0.974,1)" font-size="31.50">b</text><text x="1011.25" y="814.20" font-size="31.50">o</text><text transform="translate(1029.64,814.20) scale(1.180,1)" font-size="31.50">t</text><text transform="translate(1045.39,814.20) scale(1.180,1)" font-size="31.50">t</text><text x="1058.50" y="814.20" font-size="31.50">o</text><text transform="translate(1074.64,814.20) scale(0.607,1)" font-size="31.50">m</text><text x="1105.75" y="814.20" font-size="31.50">o</text><text transform="translate(1123.50,814.20) scale(1.026,1)" font-size="31.50">f</text><text transform="translate(1155.64,814.20) scale(1.180,1)" font-size="31.50">t</text><text transform="translate(1169.25,814.20) scale(0.943,1)" font-size="31.50">h</text><text x="1185.32" y="814.20" font-size="31.50">e</text><text transform="translate(1218.71,814.20) scale(1.180,1)" font-size="31.50">l</text><text x="1231.75" y="814.20" font-size="31.50">o</text><text transform="translate(1248.27,814.20) scale(0.628,1)" font-size="31.50">w</text><text x="1264.07" y="814.20" font-size="31.50">e</text><text transform="translate(1281.35,814.20) scale(1.019,1)" font-size="31.50">r</text><text transform="translate(1313.21,814.20) scale(1.180,1)" font-size="31.50">l</text><text x="1326.80" y="814.20" font-size="31.50">a</text><text transform="translate(1342.43,814.20) scale(0.930,1)" font-size="31.50">y</text><text x="1358.57" y="814.20" font-size="31.50">e</text><text transform="translate(1375.85,814.20) scale(1.019,1)" font-size="31.50">r</text></g>
<g aria-label="The top of cement layer"><text transform="translate(932.84,849.00) scale(0.781,1)" font-size="31.50">T</text><text transform="translate(948.75,849.00) scale(0.943,1)" font-size="31.50">h</text><text x="964.82" y="849.00" font-size="31.50">e</text><text transform="translate(998.14,849.00) scale(1.180,1)" font-size="31.50">t</text><text x="1011.25" y="849.00" font-size="31.50">o</text><text x="1027.36" y="849.00" font-size="31.50">p</text><text x="1058.50" y="849.00" font-size="31.50">o</text><text transform="translate(1076.25,849.00) scale(1.026,1)" font-size="31.50">f</text><text x="1106.52" y="849.00" font-size="31.50">c</text><text x="1122.32" y="849.00" font-size="31.50">e</text><text transform="translate(1137.64,849.00) scale(0.607,1)" font-size="31.50">m</text><text x="1153.82" y="849.00" font-size="31.50">e</text><text transform="translate(1168.83,849.00) scale(0.974,1)" font-size="31.50">n</text><text transform="translate(1187.14,849.00) scale(1.180,1)" font-size="31.50">t</text><text transform="translate(1218.71,849.00) scale(1.180,1)" font-size="31.50">l</text><text x="1232.30" y="849.00" font-size="31.50">a</text><text transform="translate(1247.93,849.00) scale(0.930,1)" font-size="31.50">y</text><text x="1264.07" y="849.00" font-size="31.50">e</text><text transform="translate(1281.35,849.00) scale(1.019,1)" font-size="31.50">r</text></g>
<g aria-label="The bottom of cement layer"><text transform="translate(932.84,883.60) scale(0.781,1)" font-size="31.50">T</text><text transform="translate(948.75,883.60) scale(0.943,1)" font-size="31.50">h</text><text x="964.82" y="883.60" font-size="31.50">e</text><text transform="translate(996.29,883.60) scale(0.974,1)" font-size="31.50">b</text><text x="1011.25" y="883.60" font-size="31.50">o</text><text transform="translate(1029.64,883.60) scale(1.180,1)" font-size="31.50">t</text><text transform="translate(1045.39,883.60) scale(1.180,1)" font-size="31.50">t</text><text x="1058.50" y="883.60" font-size="31.50">o</text><text transform="translate(1074.64,883.60) scale(0.607,1)" font-size="31.50">m</text><text x="1105.75" y="883.60" font-size="31.50">o</text><text transform="translate(1123.50,883.60) scale(1.026,1)" font-size="31.50">f</text><text x="1153.77" y="883.60" font-size="31.50">c</text><text x="1169.57" y="883.60" font-size="31.50">e</text><text transform="translate(1184.89,883.60) scale(0.607,1)" font-size="31.50">m</text><text x="1201.07" y="883.60" font-size="31.50">e</text><text transform="translate(1216.08,883.60) scale(0.974,1)" font-size="31.50">n</text><text transform="translate(1234.39,883.60) scale(1.180,1)" font-size="31.50">t</text><text transform="translate(1265.96,883.60) scale(1.180,1)" font-size="31.50">l</text><text x="1279.55" y="883.60" font-size="31.50">a</text><text transform="translate(1295.18,883.60) scale(0.930,1)" font-size="31.50">y</text><text x="1311.32" y="883.60" font-size="31.50">e</text><text transform="translate(1328.60,883.60) scale(1.019,1)" font-size="31.50">r</text></g>
<g aria-label="0.1"><text x="112.60" y="63.58" font-size="39.00">0</text><text x="131.46" y="63.58" font-size="39.00">.</text><text x="149.86" y="63.58" font-size="39.00">1</text></g>
<g aria-label="0.0"><text x="112.60" y="167.80" font-size="39.00">0</text><text x="131.46" y="167.80" font-size="39.00">.</text><text x="150.40" y="167.80" font-size="39.00">0</text></g>
<g aria-label="-0.1"><rect x="95.13" y="257.86" width="17.01" height="1.7" fill="#000" stroke="none"/><text x="112.60" y="272.02" font-size="39.00">0</text><text x="131.46" y="272.02" font-size="39.00">.</text><text x="149.86" y="272.02" font-size="39.00">1</text></g>
<g aria-label="-0.2"><rect x="95.13" y="362.08" width="17.01" height="1.7" fill="#000" stroke="none"/><text x="112.60" y="376.24" font-size="39.00">0</text><text x="131.46" y="376.24" font-size="39.00">.</text><text x="150.62" y="376.24" font-size="39.00">2</text></g>
<g aria-label="-0.3"><rect x="95.13" y="466.30" width="17.01" height="1.7" fill="#000" stroke="none"/><text x="112.60" y="480.46" font-size="39.00">0</text><text x="131.46" y="480.46" font-size="39.00">.</text><text x="150.23" y="480.46" font-size="39.00">3</text></g>
<g aria-label="-0.4"><rect x="95.13" y="570.52" width="17.01" height="1.7" fill="#000" stroke="none"/><text x="112.60" y="584.68" font-size="39.00">0</text><text x="131.46" y="584.68" font-size="39.00">.</text><text transform="translate(150.93,584.68) scale(0.938,1)" font-size="39.00">4</text></g>
<g aria-label="-0.5"><rect x="95.13" y="674.74" width="17.01" height="1.7" fill="#000" stroke="none"/><text x="112.60" y="688.90" font-size="39.00">0</text><text x="131.46" y="688.90" font-size="39.00">.</text><text x="150.03" y="688.90" font-size="39.00">5</text></g>
<g aria-label="-0.6"><rect x="95.13" y="778.96" width="17.01" height="1.7" fill="#000" stroke="none"/><text x="112.60" y="793.12" font-size="39.00">0</text><text x="131.46" y="793.12" font-size="39.00">.</text><text x="150.14" y="793.12" font-size="39.00">6</text></g>
<g aria-label="-0.7"><rect x="95.13" y="883.18" width="17.01" height="1.7" fill="#000" stroke="none"/><text x="112.60" y="897.34" font-size="39.00">0</text><text x="131.46" y="897.34" font-size="39.00">.</text><text x="149.68" y="897.34" font-size="39.00">7</text></g>
<g aria-label="0.00"><text x="227.70" y="985.60" font-size="39.00">0</text><text x="246.56" y="985.60" font-size="39.00">.</text><text x="265.50" y="985.60" font-size="39.00">0</text><text x="284.40" y="985.60" font-size="39.00">0</text></g>
<g aria-label="0.01"><text x="384.78" y="985.60" font-size="39.00">0</text><text x="403.64" y="985.60" font-size="39.00">.</text><text x="422.58" y="985.60" font-size="39.00">0</text><text x="440.94" y="985.60" font-size="39.00">1</text></g>
<g aria-label="0.02"><text x="541.86" y="985.60" font-size="39.00">0</text><text x="560.72" y="985.60" font-size="39.00">.</text><text x="579.66" y="985.60" font-size="39.00">0</text><text x="598.78" y="985.60" font-size="39.00">2</text></g>
<g aria-label="0.03"><text x="698.94" y="985.60" font-size="39.00">0</text><text x="717.80" y="985.60" font-size="39.00">.</text><text x="736.74" y="985.60" font-size="39.00">0</text><text x="755.47" y="985.60" font-size="39.00">3</text></g>
<g aria-label="0.04"><text x="856.02" y="985.60" font-size="39.00">0</text><text x="874.88" y="985.60" font-size="39.00">.</text><text x="893.82" y="985.60" font-size="39.00">0</text><text transform="translate(913.25,985.60) scale(0.938,1)" font-size="39.00">4</text></g>
<g aria-label="0.05"><text x="1013.10" y="985.60" font-size="39.00">0</text><text x="1031.96" y="985.60" font-size="39.00">.</text><text x="1050.90" y="985.60" font-size="39.00">0</text><text x="1069.43" y="985.60" font-size="39.00">5</text></g>
<g aria-label="0.06"><text x="1170.18" y="985.60" font-size="39.00">0</text><text x="1189.04" y="985.60" font-size="39.00">.</text><text x="1207.98" y="985.60" font-size="39.00">0</text><text x="1226.62" y="985.60" font-size="39.00">6</text></g>
<g aria-label="Time/s"><text transform="translate(667.80,1046.30) scale(0.781,1)" font-size="46.20">T</text><text transform="translate(694.32,1046.30) scale(1.180,1)" font-size="46.20">i</text><text transform="translate(714.07,1046.30) scale(0.607,1)" font-size="46.20">m</text><text x="737.80" y="1046.30" font-size="46.20">e</text><line x1="762.47" y1="1049.76" x2="781.41" y2="1011.88" stroke="#000" stroke-width="1.7"/><text x="785.25" y="1046.30" font-size="46.20">s</text></g>
<g aria-label="Vertical stress/MPa" transform="translate(59.1,470.0) rotate(-90)"><text transform="translate(-218.63,0.00) scale(0.643,1)" font-size="46.20">V</text><text x="-195.15" y="0.00" font-size="46.20">e</text><text transform="translate(-169.80,0.00) scale(1.019,1)" font-size="46.20">r</text><text transform="translate(-146.28,0.00) scale(1.180,1)" font-size="46.20">t</text><text transform="translate(-123.13,0.00) scale(1.180,1)" font-size="46.20">i</text><text x="-102.82" y="0.00" font-size="46.20">c</text><text x="-80.05" y="0.00" font-size="46.20">a</text><text transform="translate(-53.77,0.00) scale(1.180,1)" font-size="46.20">l</text><text x="-9.10" y="0.00" font-size="46.20">s</text><text transform="translate(15.42,0.00) scale(1.180,1)" font-size="46.20">t</text><text transform="translate(38.10,0.00) scale(1.019,1)" font-size="46.20">r</text><text x="58.95" y="0.00" font-size="46.20">e</text><text x="83.30" y="0.00" font-size="46.20">s</text><text x="106.40" y="0.00" font-size="46.20">s</text><line x1="129.82" y1="3.47" x2="148.76" y2="-34.42" stroke="#000" stroke-width="1.7"/><text transform="translate(150.58,0.00) scale(0.541,1)" font-size="46.20">M</text><text transform="translate(173.18,0.00) scale(0.923,1)" font-size="46.20">P</text><text x="197.15" y="0.00" font-size="46.20">a</text></g>
</g>
<rect x="849.0" y="714.0" width="545.6" height="178.1" fill="none" stroke="#000" stroke-width="2.4" shape-rendering="crispEdges"/>
</svg>
</body>
</html>
